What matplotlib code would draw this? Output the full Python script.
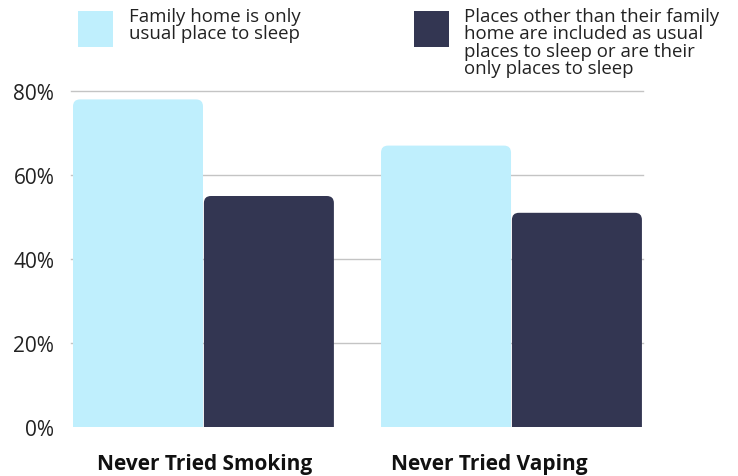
import matplotlib.pyplot as plt
from matplotlib.patches import FancyBboxPatch, Rectangle
import numpy as np

plt.rcParams['font.family'] = ['Open Sans', 'DejaVu Sans']

# data
categories = ['Never Tried Smoking', 'Never Tried Vaping']
home_only = [78, 67]
other_places = [55, 51]
series_labels = ['Family home is only\nusual place to sleep',
                 'Places other than their family\nhome are included as usual\nplaces to sleep or are their\nonly places to sleep']
yticks = [0, 20, 40, 60, 80]

light = '#BFEFFD'
dark = '#333652'

fig = plt.figure(figsize=(7.38, 4.77), dpi=100)
ax = fig.add_axes([71 / 738, 49 / 477, 572 / 738, 336 / 477])

x = np.arange(len(categories))
w = 0.425
ax.set_xlim(-0.43, 1.427)
ax.set_ylim(0, 80)

bars1 = ax.bar(x - w / 2, home_only, w, color=light)
bars2 = ax.bar(x + w / 2, other_places, w, color=dark)

# swap plain bars for ones with rounded top corners
fig.canvas.draw()
p0 = ax.transData.transform((0, 0))
p1 = ax.transData.transform((1, 1))
aspect = (p1[0] - p0[0]) / (p1[1] - p0[1])
r = 7 / (p1[0] - p0[0])
for bars, col in [(bars1, light), (bars2, dark)]:
    for b in bars:
        bx, bw, bh = b.get_x(), b.get_width(), b.get_height()
        b.set_visible(False)
        patch = FancyBboxPatch((bx + 0.0015, -5), bw - 0.003, bh + 5,
                               boxstyle=f'round,pad=0,rounding_size={r}',
                               mutation_aspect=aspect, facecolor=col,
                               edgecolor='none', zorder=3)
        ax.add_patch(patch)

ax.set_yticks(yticks)
ax.set_yticklabels([f'{v}%' for v in yticks], fontsize=15, color='#222222')
# category labels sit a little left of the group centres in the original
ax.set_xticks([0.005, 0.927])
ax.set_xticklabels(categories, fontsize=15, fontweight='bold', color='#111111')
ax.tick_params(length=0)
ax.tick_params(axis='y', pad=12)
ax.tick_params(axis='x', pad=19)
for s in ax.spines.values():
    s.set_visible(False)
for v in yticks[1:]:
    ax.axhline(v, color='#c4c4c4', lw=1, zorder=1, clip_on=False)

# legend
fig.patches.append(Rectangle((78 / 738, 1 - 48 / 477), 35 / 738, 36 / 477,
                             transform=fig.transFigure, facecolor=light, edgecolor='none'))
fig.patches.append(Rectangle((414 / 738, 1 - 48 / 477), 35 / 738, 36 / 477,
                             transform=fig.transFigure, facecolor=dark, edgecolor='none'))
fig.text(129 / 738, 1 - 8 / 477, series_labels[0], fontsize=13.4, va='top',
         ha='left', color='#222222', linespacing=0.95)
fig.text(464 / 738, 1 - 8 / 477, series_labels[1], fontsize=13.4, va='top',
         ha='left', color='#222222', linespacing=0.95)

fig.savefig('out.png', dpi=100)
